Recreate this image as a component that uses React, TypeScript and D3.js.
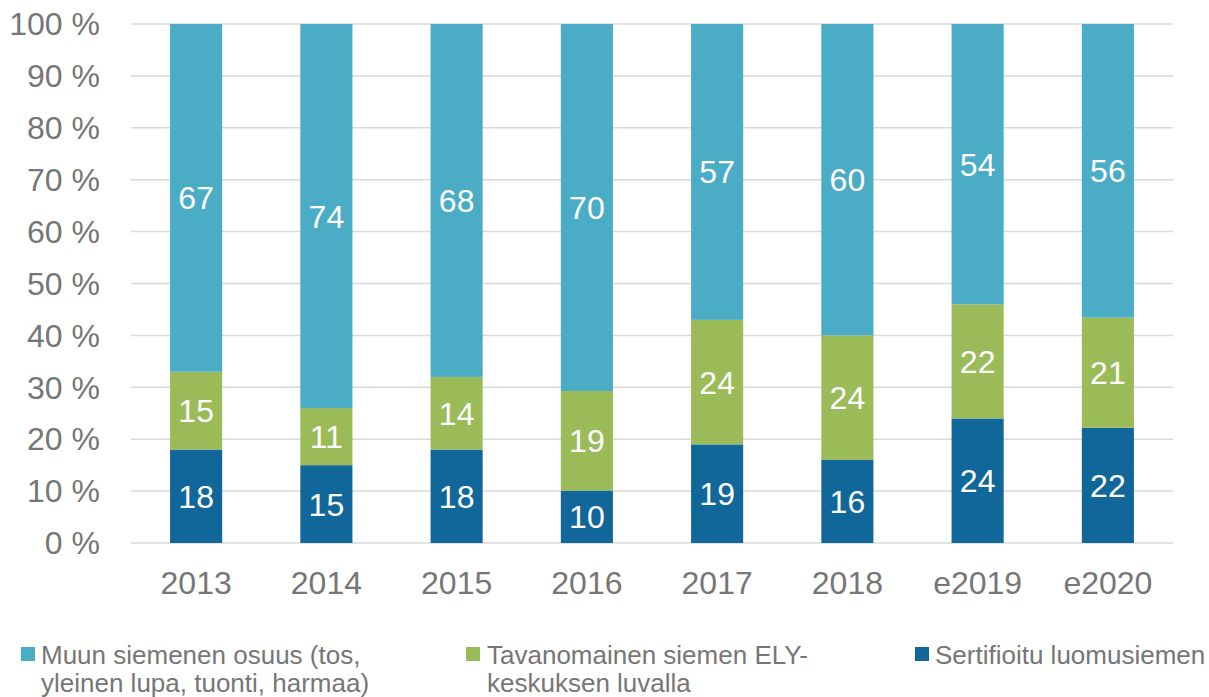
import React from "react";
import * as d3 from "d3";

const years = ["2013", "2014", "2015", "2016", "2017", "2018", "e2019", "e2020"];
const sertifioitu = [18, 15, 18, 10, 19, 16, 24, 22];
const tavanomainen = [15, 11, 14, 19, 24, 24, 22, 21];
const muun = [67, 74, 68, 70, 57, 60, 54, 56];
const yTicks = [0, 10, 20, 30, 40, 50, 60, 70, 80, 90, 100];

const seriesNames = ["sertifioitu", "tavanomainen", "muun"];
const colors: Record<string, string> = {
  sertifioitu: "#11679A",
  tavanomainen: "#9BBB59",
  muun: "#4BACC6",
};

export default function App() {
  const W = 1209, H = 697;
  const left = 131, right = 1173, top = 24, bottom = 543;
  const x = d3.scaleBand<string>().domain(years).range([left, right]).paddingInner(0.6).paddingOuter(0.3);
  const y = d3.scaleLinear().domain([0, 100]).range([bottom, top]);

  const rows = years.map((yr, i) => {
    const tot = sertifioitu[i] + tavanomainen[i] + muun[i];
    return {
      year: yr,
      sertifioitu: (sertifioitu[i] / tot) * 100,
      tavanomainen: (tavanomainen[i] / tot) * 100,
      muun: (muun[i] / tot) * 100,
      raw: { sertifioitu: sertifioitu[i], tavanomainen: tavanomainen[i], muun: muun[i] } as Record<string, number>,
    };
  });
  const stacked = d3.stack<any>().keys(seriesNames)(rows);
  const font = "'Liberation Sans', Arial, sans-serif";
  const gray = "#767676";

  return (
    <svg width={W} height={H} style={{ position: "absolute", left: 0, top: 0, background: "#fff" }} fontFamily={font}>
      {yTicks.map((t) => (
        <g key={t}>
          <line x1={left} x2={right} y1={y(t)} y2={y(t)} stroke="#d9d9d9" strokeWidth={1.5} />
          <text x={100} y={y(t)} dy="0.35em" textAnchor="end" fontSize={32} fill={gray}>
            {t} %
          </text>
        </g>
      ))}
      {stacked.map((s) => (
        <g key={s.key}>
          {s.map((d, i) => {
            const bx = x(years[i])!;
            const y0 = y(d[0]);
            const y1 = y(d[1]);
            return (
              <g key={i}>
                <rect x={bx} y={y1} width={x.bandwidth()} height={y0 - y1} fill={colors[s.key]} />
                <text
                  x={bx + x.bandwidth() / 2}
                  y={(y0 + y1) / 2}
                  dy="0.36em"
                  textAnchor="middle"
                  fontSize={32}
                  fill="#fff"
                >
                  {rows[i].raw[s.key]}
                </text>
              </g>
            );
          })}
        </g>
      ))}
      {years.map((yr) => (
        <text key={yr} x={x(yr)! + x.bandwidth() / 2} y={594} textAnchor="middle" fontSize={32} fill={gray}>
          {yr}
        </text>
      ))}
      <g fontSize={26} fill={gray}>
        <rect x={21} y={647} width={14} height={14} fill={colors.muun} />
        <text x={41} y={664}>Muun siemenen osuus (tos,</text>
        <text x={41} y={692}>yleinen lupa, tuonti, harmaa)</text>
        <rect x={466} y={647} width={14} height={14} fill={colors.tavanomainen} />
        <text x={487} y={664}>Tavanomainen siemen ELY-</text>
        <text x={487} y={692}>keskuksen luvalla</text>
        <rect x={915} y={647} width={14} height={14} fill={colors.sertifioitu} />
        <text x={935} y={664}>Sertifioitu luomusiemen</text>
      </g>
    </svg>
  );
}
